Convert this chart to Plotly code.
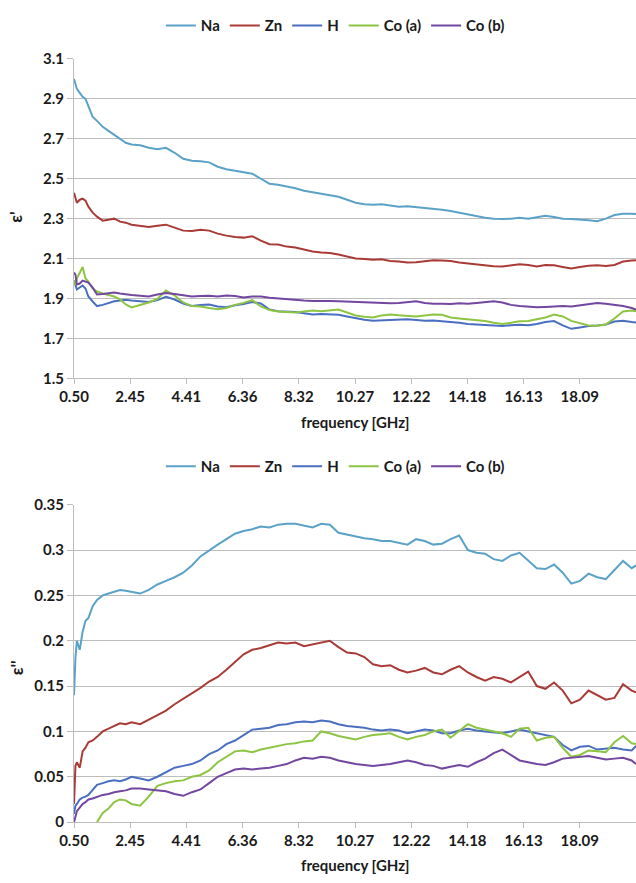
import plotly.graph_objects as go

FREQ = [0.50, 0.55, 0.60, 0.70, 0.80, 0.90, 1.00, 1.15, 1.30, 1.50, 1.70, 1.90, 2.10, 2.30,
        2.5, 2.8, 3.1, 3.4, 3.7, 4.0, 4.3, 4.6, 4.9, 5.2, 5.5, 5.8, 6.1, 6.4, 6.7, 7.0,
        7.3, 7.6, 7.9, 8.2, 8.5, 8.8, 9.1, 9.4, 9.7, 10.0, 10.3, 10.6, 10.9, 11.2, 11.5,
        11.8, 12.1, 12.4, 12.7, 13.0, 13.3, 13.6, 13.9, 14.2, 14.5, 14.8, 15.1, 15.4, 15.7,
        16.0, 16.3, 16.6, 16.9, 17.2, 17.5, 17.8, 18.1, 18.4, 18.7, 19.0, 19.3, 19.6, 19.9, 20.05]

# epsilon' (real part)
NA_E1 = [3.00, 2.97, 2.95, 2.93, 2.91, 2.90, 2.86, 2.81, 2.79, 2.76, 2.74, 2.72, 2.70, 2.68,
         2.672, 2.668, 2.655, 2.648, 2.655, 2.63, 2.60, 2.59, 2.588, 2.582, 2.56, 2.548, 2.54, 2.532, 2.525, 2.50,
         2.475, 2.47, 2.462, 2.452, 2.44, 2.432, 2.425, 2.418, 2.41, 2.395, 2.38, 2.372, 2.37, 2.372, 2.365,
         2.36, 2.362, 2.358, 2.355, 2.35, 2.345, 2.338, 2.33, 2.32, 2.313, 2.305, 2.30, 2.298, 2.30,
         2.305, 2.30, 2.308, 2.315, 2.308, 2.30, 2.298, 2.296, 2.292, 2.287, 2.30, 2.318, 2.325, 2.325, 2.323]
ZN_E1 = [2.43, 2.40, 2.38, 2.395, 2.40, 2.39, 2.36, 2.33, 2.31, 2.29, 2.295, 2.30, 2.285, 2.28,
         2.27, 2.265, 2.258, 2.265, 2.27, 2.255, 2.24, 2.238, 2.245, 2.24, 2.225, 2.215, 2.208, 2.205, 2.212, 2.19,
         2.172, 2.17, 2.16, 2.155, 2.145, 2.135, 2.13, 2.128, 2.12, 2.11, 2.10, 2.098, 2.094, 2.096, 2.088,
         2.085, 2.08, 2.082, 2.088, 2.092, 2.09, 2.088, 2.08, 2.075, 2.07, 2.066, 2.062, 2.06, 2.065,
         2.072, 2.068, 2.06, 2.068, 2.066, 2.058, 2.05, 2.058, 2.064, 2.066, 2.063, 2.068, 2.085, 2.09, 2.092]
H_E1 = [1.99, 1.965, 1.945, 1.955, 1.965, 1.95, 1.91, 1.885, 1.862, 1.868, 1.878, 1.886, 1.89, 1.894,
        1.89, 1.886, 1.882, 1.892, 1.908, 1.895, 1.875, 1.862, 1.868, 1.87, 1.86, 1.856, 1.866, 1.872, 1.882, 1.875,
        1.845, 1.836, 1.835, 1.832, 1.826, 1.82, 1.822, 1.82, 1.818, 1.81, 1.80, 1.793, 1.788, 1.79, 1.795,
        1.795, 1.796, 1.792, 1.788, 1.79, 1.787, 1.784, 1.778, 1.772, 1.77, 1.766, 1.764, 1.762, 1.766,
        1.768, 1.766, 1.772, 1.782, 1.787, 1.765, 1.748, 1.755, 1.762, 1.765, 1.77, 1.785, 1.788, 1.782, 1.78]
COA_E1 = [1.99, 1.968, 2.00, 2.033, 2.058, 2.00, 1.984, 1.95, 1.935, 1.925, 1.918, 1.91, 1.896, 1.87,
          1.855, 1.868, 1.88, 1.898, 1.94, 1.915, 1.88, 1.862, 1.86, 1.852, 1.846, 1.852, 1.868, 1.878, 1.892, 1.86,
          1.842, 1.835, 1.832, 1.83, 1.835, 1.84, 1.836, 1.842, 1.845, 1.83, 1.815, 1.808, 1.805, 1.815, 1.82,
          1.816, 1.812, 1.81, 1.815, 1.82, 1.818, 1.805, 1.80, 1.796, 1.793, 1.787, 1.778, 1.772, 1.778,
          1.786, 1.787, 1.795, 1.805, 1.82, 1.81, 1.788, 1.775, 1.765, 1.763, 1.77, 1.80, 1.835, 1.84, 1.836]
COB_E1 = [2.03, 2.02, 1.97, 1.975, 1.99, 1.985, 1.98, 1.955, 1.92, 1.922, 1.925, 1.93, 1.925, 1.92,
          1.918, 1.914, 1.91, 1.92, 1.928, 1.922, 1.916, 1.91, 1.912, 1.914, 1.91, 1.915, 1.912, 1.905, 1.91, 1.91,
          1.904, 1.90, 1.896, 1.894, 1.89, 1.888, 1.886, 1.887, 1.886, 1.884, 1.882, 1.88, 1.88, 1.878, 1.876,
          1.878, 1.882, 1.886, 1.878, 1.874, 1.874, 1.872, 1.876, 1.874, 1.878, 1.882, 1.886, 1.88, 1.868,
          1.862, 1.86, 1.856, 1.858, 1.86, 1.862, 1.86, 1.866, 1.872, 1.878, 1.874, 1.868, 1.862, 1.852, 1.845]

# epsilon'' (imaginary part)
NA_E2 = [0.14, 0.181, 0.20, 0.19, 0.21, 0.222, 0.225, 0.238, 0.245, 0.25, 0.252, 0.254, 0.256, 0.255,
         0.254, 0.252, 0.256, 0.262, 0.266, 0.27, 0.275, 0.283, 0.293, 0.30, 0.306, 0.312, 0.318, 0.321, 0.323, 0.326,
         0.325, 0.328, 0.329, 0.329, 0.327, 0.325, 0.329, 0.328, 0.319, 0.317, 0.315, 0.313, 0.312, 0.31, 0.31,
         0.308, 0.306, 0.312, 0.31, 0.306, 0.307, 0.312, 0.316, 0.30, 0.297, 0.296, 0.29, 0.288, 0.294,
         0.297, 0.288, 0.28, 0.279, 0.284, 0.275, 0.263, 0.266, 0.274, 0.27, 0.268, 0.278, 0.288, 0.28, 0.283]
ZN_E2 = [0.02, 0.062, 0.066, 0.06, 0.078, 0.082, 0.088, 0.09, 0.094, 0.10, 0.103, 0.106, 0.109, 0.108,
         0.11, 0.108, 0.113, 0.118, 0.123, 0.13, 0.136, 0.142, 0.148, 0.155, 0.16, 0.168, 0.176, 0.185, 0.19, 0.192,
         0.195, 0.198, 0.197, 0.198, 0.194, 0.196, 0.198, 0.20, 0.193, 0.187, 0.186, 0.182, 0.174, 0.172, 0.173,
         0.168, 0.165, 0.167, 0.17, 0.165, 0.163, 0.168, 0.172, 0.165, 0.16, 0.156, 0.16, 0.158, 0.154,
         0.16, 0.166, 0.15, 0.147, 0.154, 0.145, 0.131, 0.135, 0.145, 0.14, 0.135, 0.137, 0.152, 0.145, 0.143]
H_E2 = [0.009, 0.018, 0.02, 0.025, 0.027, 0.028, 0.03, 0.036, 0.041, 0.043, 0.045, 0.046, 0.045, 0.047,
        0.05, 0.048, 0.046, 0.05, 0.055, 0.06, 0.062, 0.064, 0.068, 0.075, 0.079, 0.086, 0.09, 0.096, 0.102, 0.103,
        0.104, 0.107, 0.108, 0.11, 0.111, 0.11, 0.112, 0.111, 0.108, 0.106, 0.105, 0.104, 0.102, 0.101, 0.102,
        0.101, 0.098, 0.10, 0.102, 0.101, 0.098, 0.098, 0.101, 0.103, 0.101, 0.10, 0.099, 0.098, 0.10,
        0.102, 0.10, 0.098, 0.096, 0.094, 0.085, 0.079, 0.083, 0.084, 0.08, 0.081, 0.082, 0.08, 0.079, 0.084]
COA_E2 = [None, None, None, None, None, None, None, None, 0.0, 0.01, 0.015, 0.022, 0.025, 0.024,
          0.02, 0.018, 0.028, 0.04, 0.043, 0.045, 0.046, 0.05, 0.052, 0.057, 0.066, 0.072, 0.078, 0.079, 0.077, 0.08,
          0.082, 0.084, 0.086, 0.087, 0.089, 0.09, 0.10, 0.098, 0.095, 0.093, 0.091, 0.094, 0.096, 0.097, 0.098,
          0.094, 0.091, 0.094, 0.096, 0.10, 0.102, 0.093, 0.10, 0.108, 0.104, 0.102, 0.10, 0.098, 0.094,
          0.103, 0.104, 0.09, 0.093, 0.094, 0.082, 0.072, 0.074, 0.079, 0.078, 0.077, 0.088, 0.095, 0.087, 0.086]
COB_E2 = [0.0, 0.006, 0.012, 0.016, 0.02, 0.022, 0.025, 0.026, 0.028, 0.03, 0.031, 0.033, 0.034, 0.035,
          0.037, 0.037, 0.036, 0.035, 0.034, 0.031, 0.029, 0.033, 0.036, 0.043, 0.05, 0.054, 0.058, 0.059, 0.058, 0.059,
          0.06, 0.062, 0.064, 0.068, 0.071, 0.07, 0.072, 0.071, 0.068, 0.066, 0.064, 0.063, 0.062, 0.063, 0.064,
          0.066, 0.068, 0.066, 0.063, 0.062, 0.059, 0.061, 0.063, 0.061, 0.066, 0.07, 0.076, 0.08, 0.074,
          0.068, 0.066, 0.064, 0.063, 0.066, 0.07, 0.071, 0.072, 0.073, 0.071, 0.069, 0.07, 0.071, 0.068, 0.064]

NAMES = ["Na", "Zn", "H", "Co (a)", "Co (b)"]
COLORS = ["#5AA2C8", "#A93B37", "#4A6FC0", "#8DC442", "#7346A0"]
TICK_VALS = [0.5, 2.455, 4.41, 6.365, 8.32, 10.275, 12.23, 14.185, 16.14, 18.095, 20.05]
TICK_TEXT = ["0.50", "2.45", "4.41", "6.36", "8.32", "10.27", "12.22", "14.18", "16.13", "18.09", ""]

W, H = 636, 883
FONT = "Lato"
GRID = "#BDBDBD"
TXT = "#1a1a1a"

fig = go.Figure()
top = [NA_E1, ZN_E1, H_E1, COA_E1, COB_E1]
bot = [NA_E2, ZN_E2, H_E2, COA_E2, COB_E2]
for name, col, ys in zip(NAMES, COLORS, top):
    fig.add_trace(go.Scatter(x=FREQ, y=ys, name=name, mode="lines",
                             line=dict(color=col, width=2), xaxis="x", yaxis="y",
                             legend="legend"))
for name, col, ys in zip(NAMES, COLORS, bot):
    fig.add_trace(go.Scatter(x=FREQ, y=ys, name=name, mode="lines",
                             line=dict(color=col, width=2), xaxis="x2", yaxis="y2",
                             legend="legend2"))

def px_y(p):
    return 1 - p / H

L = 74
tf = dict(family=FONT, size=15, color=TXT, weight="bold")
xcommon = dict(range=[0.5, 20.05], tickvals=TICK_VALS, ticktext=TICK_TEXT,
               showgrid=False, showline=True, linecolor=GRID, linewidth=1,
               ticks="outside", ticklen=5, tickcolor=GRID, zeroline=False,
               tickfont=tf)
ycommon = dict(showgrid=True, gridcolor=GRID, gridwidth=1, showline=True,
               linecolor=GRID, linewidth=1, ticks="outside", ticklen=6,
               tickcolor=GRID, zeroline=False, tickfont=tf)

legcommon = dict(orientation="h", xanchor="center", x=0.465, yanchor="middle",
                 font=dict(family=FONT, size=15, color=TXT, weight="bold"),
                 bgcolor="rgba(0,0,0,0)", itemwidth=30, tracegroupgap=0)

fig.update_layout(
    width=W, height=H,
    margin=dict(l=L, r=0, t=0, b=0),
    paper_bgcolor="white", plot_bgcolor="white",
    showlegend=True,
    xaxis=dict(domain=[0, 1], anchor="y", **xcommon),
    yaxis=dict(domain=[px_y(376), px_y(50)], range=[1.5, 3.1], dtick=0.2,
               tick0=1.5, anchor="x", **ycommon),
    xaxis2=dict(domain=[0, 1], anchor="y2", **xcommon),
    yaxis2=dict(domain=[px_y(829), px_y(505)], range=[0, 0.35], dtick=0.05,
                tick0=0, anchor="x2", **ycommon),
    legend=dict(y=px_y(16), **legcommon),
    legend2=dict(y=px_y(466), **legcommon),
    annotations=[
        dict(text="frequency [GHz]", xref="paper", yref="paper", x=0.5, y=px_y(421),
             xanchor="center", yanchor="middle", showarrow=False, font=tf),
        dict(text="frequency [GHz]", xref="paper", yref="paper", x=0.5, y=px_y(873),
             xanchor="center", yanchor="middle", showarrow=False, font=tf),
        dict(text="ε'", xref="paper", yref="paper", x=(16 - L) / (W - L), y=px_y(212),
             xanchor="center", yanchor="middle", showarrow=False, textangle=-90,
             font=dict(family=FONT, size=17, color=TXT, weight="bold")),
        dict(text="ε''", xref="paper", yref="paper", x=(16 - L) / (W - L), y=px_y(672),
             xanchor="center", yanchor="middle", showarrow=False, textangle=-90,
             font=dict(family=FONT, size=17, color=TXT, weight="bold")),
    ],
)

fig.write_html("out.html")
